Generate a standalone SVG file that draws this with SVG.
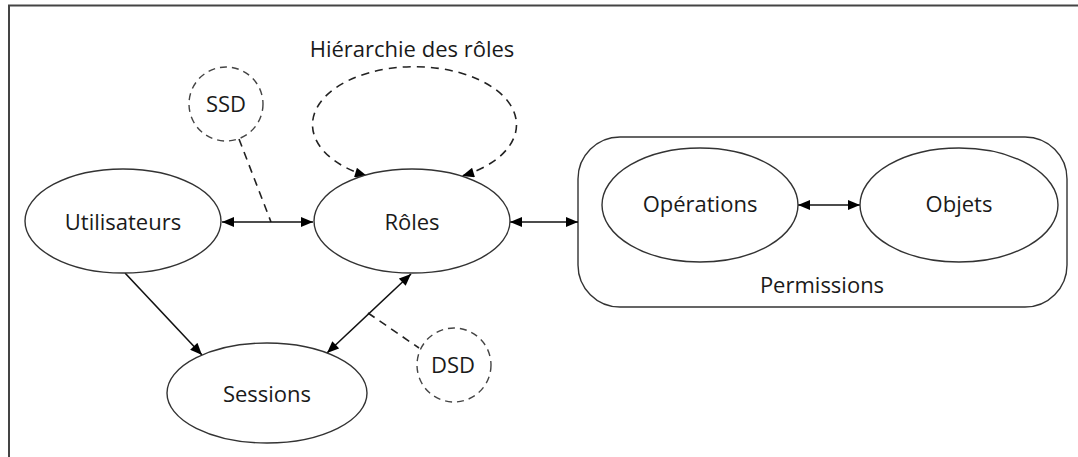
<svg xmlns="http://www.w3.org/2000/svg" width="1078" height="457" viewBox="0 0 1078 457">
  <style>
    .node { fill: #ffffff; stroke: #333333; stroke-width: 1.4; }
    .aux { fill: #ffffff; stroke: #444444; stroke-width: 1.4; stroke-dasharray: 7 5; }
    .label { font-family: "Open Sans", "Liberation Sans", sans-serif; font-size: 22px; fill: #1a1a1a; text-anchor: middle; }
    .link { fill: none; stroke: #111111; stroke-width: 1.6; }
    .dash { fill: none; stroke: #222222; stroke-width: 1.6; stroke-dasharray: 8 6; }
  </style>
  <defs>
    <marker id="arrow" viewBox="0 0 12 10" refX="12" refY="5" markerWidth="13" markerHeight="10" markerUnits="userSpaceOnUse" orient="auto-start-reverse">
      <path d="M0,0 L12,5 L0,10 Z" fill="#000000"/>
    </marker>
  </defs>

  <rect x="0" y="0" width="1078" height="457" fill="#ffffff"/>
  <!-- frame edges -->
  <path d="M9 457 V5.5 H1078" fill="none" stroke="#444444" stroke-width="2"/>

  <!-- container drawn first so the links inside it stay visible -->
  <g id="permissions">
    <rect class="node" x="578" y="137" width="489" height="170" rx="42" ry="42"/>
    <text class="label" x="822" y="293">Permissions</text>
  </g>

  <g id="connectors">
    <!-- role hierarchy loop -->
    <path class="dash" d="M367 176 A102 58 0 1 1 462 176" marker-start="url(#arrow)" marker-end="url(#arrow)"/>
    <!-- SSD constraint on user assignment -->
    <line class="dash" x1="239" y1="139" x2="271" y2="222"/>
    <!-- DSD constraint on session roles -->
    <line class="dash" x1="368" y1="313" x2="419" y2="348"/>
    <!-- user assignment -->
    <line class="link" x1="222" y1="222" x2="313" y2="222" marker-start="url(#arrow)" marker-end="url(#arrow)"/>
    <!-- permission assignment -->
    <line class="link" x1="510" y1="222" x2="578" y2="222" marker-start="url(#arrow)" marker-end="url(#arrow)"/>
    <!-- operations / objects -->
    <line class="link" x1="798" y1="205" x2="860" y2="205" marker-start="url(#arrow)" marker-end="url(#arrow)"/>
    <!-- user sessions -->
    <line class="link" x1="125" y1="273" x2="202" y2="355" marker-end="url(#arrow)"/>
    <!-- session roles -->
    <line class="link" x1="327" y1="353" x2="411" y2="274" marker-start="url(#arrow)" marker-end="url(#arrow)"/>
  </g>

  <g id="hierarchie">
    <text class="label" x="412" y="57">Hiérarchie des rôles</text>
  </g>

  <g id="utilisateurs">
    <ellipse class="node" cx="123" cy="221" rx="98" ry="52"/>
    <text class="label" x="123" y="230">Utilisateurs</text>
  </g>

  <g id="roles">
    <ellipse class="node" cx="412" cy="221" rx="98" ry="52"/>
    <text class="label" x="412" y="230">Rôles</text>
  </g>

  <g id="sessions">
    <ellipse class="node" cx="267" cy="393" rx="100" ry="50"/>
    <text class="label" x="267" y="402">Sessions</text>
  </g>

  <g id="operations">
    <ellipse class="node" cx="700" cy="205" rx="98" ry="57"/>
    <text class="label" x="700" y="212">Opérations</text>
  </g>

  <g id="objets">
    <ellipse class="node" cx="959" cy="205" rx="99" ry="57"/>
    <text class="label" x="959" y="212">Objets</text>
  </g>

  <g id="ssd">
    <circle class="aux" cx="226" cy="104" r="37"/>
    <text class="label" x="226" y="112">SSD</text>
  </g>

  <g id="dsd">
    <circle class="aux" cx="454" cy="365" r="37"/>
    <text class="label" x="453" y="373">DSD</text>
  </g>
</svg>
